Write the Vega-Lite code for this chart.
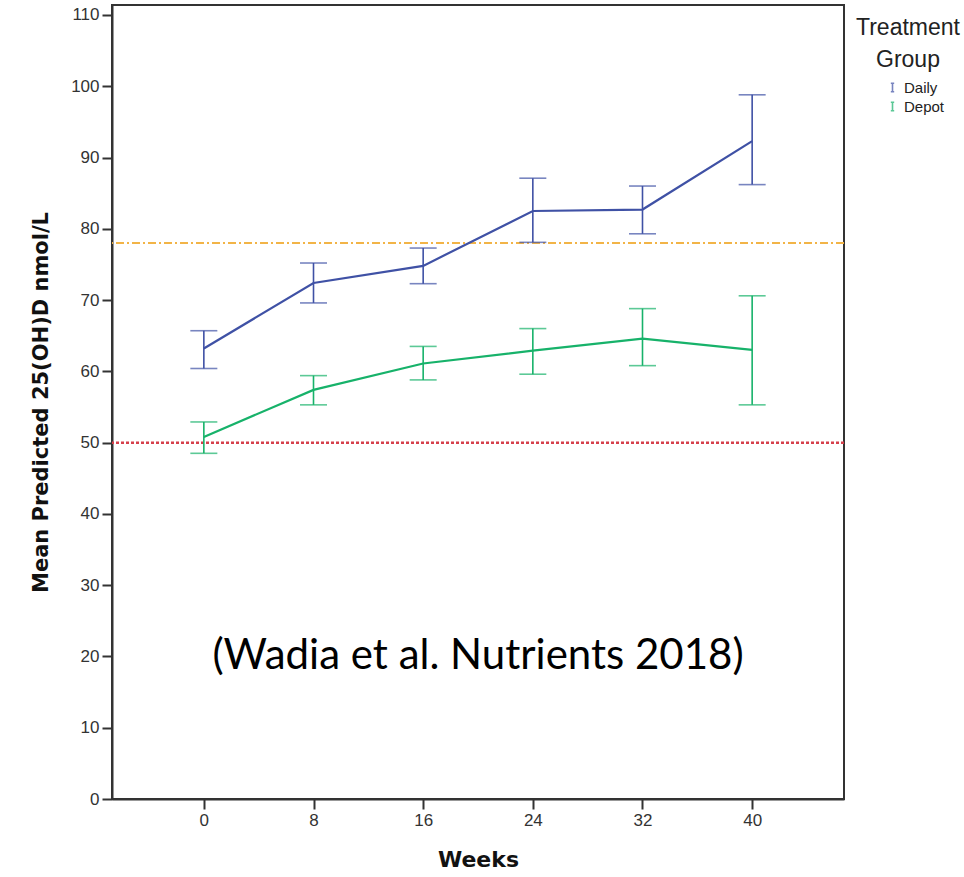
{
  "$schema": "https://vega.github.io/schema/vega-lite/v6.json",
  "width": 732,
  "height": 794,
  "autosize": "none",
  "padding": {"left": 112, "top": 5, "right": 120, "bottom": 78},
  "background": "white",
  "config": {
    "view": {"stroke": "#333333", "strokeWidth": 2},
    "font": "Liberation Sans",
    "axis": {"grid": false, "domainColor": "#333333", "domainWidth": 2, "tickColor": "#333333", "tickWidth": 2, "labelColor": "#333333", "titleColor": "#111111", "titleFont": "DejaVu Sans"}
  },
  "datasets": {
    "means": [
      {"week": 0, "group": "Daily", "mean": 63.2, "lower": 60.4, "upper": 65.7},
      {"week": 8, "group": "Daily", "mean": 72.4, "lower": 69.6, "upper": 75.2},
      {"week": 16, "group": "Daily", "mean": 74.8, "lower": 72.3, "upper": 77.3},
      {"week": 24, "group": "Daily", "mean": 82.5, "lower": 78.1, "upper": 87.1},
      {"week": 32, "group": "Daily", "mean": 82.7, "lower": 79.3, "upper": 86.0},
      {"week": 40, "group": "Daily", "mean": 92.3, "lower": 86.2, "upper": 98.8},
      {"week": 0, "group": "Depot", "mean": 50.8, "lower": 48.5, "upper": 52.9},
      {"week": 8, "group": "Depot", "mean": 57.4, "lower": 55.3, "upper": 59.4},
      {"week": 16, "group": "Depot", "mean": 61.1, "lower": 58.8, "upper": 63.5},
      {"week": 24, "group": "Depot", "mean": 62.9, "lower": 59.6, "upper": 66.0},
      {"week": 32, "group": "Depot", "mean": 64.6, "lower": 60.8, "upper": 68.8},
      {"week": 40, "group": "Depot", "mean": 63.0, "lower": 55.3, "upper": 70.6}
    ],
    "refs": [
      {"level": 78, "kind": "upper"},
      {"level": 50, "kind": "lower"}
    ],
    "note": [{"label": "(Wadia et al. Nutrients 2018)", "wx": 20, "wy": 20}]
  },
  "layer": [
    {
      "data": {"name": "refs"},
      "transform": [{"filter": "datum.kind === 'upper'"}],
      "mark": {"type": "rule", "color": "#f2b447", "strokeWidth": 2, "strokeDash": [8, 3, 2, 3]},
      "encoding": {"y": {"field": "level", "type": "quantitative", "scale": {"domain": [0, 111.4], "nice": false}}}
    },
    {
      "data": {"name": "refs"},
      "transform": [{"filter": "datum.kind === 'lower'"}],
      "mark": {"type": "rule", "color": "#d6404c", "strokeWidth": 2.5, "strokeDash": [3, 2]},
      "encoding": {"y": {"field": "level", "type": "quantitative"}}
    },
    {
      "data": {"name": "means"},
      "mark": {"type": "line", "strokeWidth": 2.2},
      "encoding": {
        "x": {"field": "week", "type": "quantitative", "scale": {"domain": [-6.7, 46.7], "nice": false, "zero": false},
              "axis": {"values": [0, 8, 16, 24, 32, 40], "title": "Weeks", "tickSize": 10, "labelPadding": 3, "labelFontSize": 17, "titleFontSize": 22, "titleFontWeight": "bold", "titlePadding": 21}},
        "y": {"field": "mean", "type": "quantitative",
              "axis": {"values": [0, 10, 20, 30, 40, 50, 60, 70, 80, 90, 100, 110], "title": "Mean Predicted 25(OH)D nmol/L", "tickSize": 10, "labelPadding": 3, "labelFontSize": 17, "titleFontSize": 21, "titleFontWeight": "bold", "titlePadding": 19}},
        "color": {"field": "group", "type": "nominal",
                  "scale": {"domain": ["Daily", "Depot"], "range": ["#3f51a5", "#17b26a"]},
                  "legend": {"title": ["Treatment", "Group"], "orient": "none", "legendX": 744, "legendY": 12,
                             "titleFontSize": 23, "titleFontWeight": "normal", "titleColor": "#222222", "titleLineHeight": 32,
                             "titleAlign": "center", "titleAnchor": "middle", "titlePadding": 8,
                             "labelFontSize": 15, "labelColor": "#222222", "rowPadding": 3,
                             "symbolType": "M-0.4,-1H0.4M0,-1V1M-0.4,1H0.4", "symbolSize": 70, "symbolStrokeWidth": 1.6,
                             "symbolFillColor": "transparent", "symbolOffset": 14}}
      }
    },
    {
      "data": {"name": "means"},
      "mark": {"type": "rule", "strokeWidth": 1.6},
      "encoding": {
        "x": {"field": "week", "type": "quantitative"},
        "y": {"field": "lower", "type": "quantitative"},
        "y2": {"field": "upper"},
        "color": {"field": "group", "type": "nominal"}
      }
    },
    {
      "data": {"name": "means"},
      "mark": {"type": "tick", "orient": "horizontal", "size": 27, "thickness": 1.6},
      "encoding": {
        "x": {"field": "week", "type": "quantitative"},
        "y": {"field": "upper", "type": "quantitative"},
        "color": {"field": "group", "type": "nominal"}
      }
    },
    {
      "data": {"name": "means"},
      "mark": {"type": "tick", "orient": "horizontal", "size": 27, "thickness": 1.6},
      "encoding": {
        "x": {"field": "week", "type": "quantitative"},
        "y": {"field": "lower", "type": "quantitative"},
        "color": {"field": "group", "type": "nominal"}
      }
    },
    {
      "data": {"name": "note"},
      "mark": {"type": "text", "font": "Lato", "fontSize": 42, "color": "#000000", "align": "center", "baseline": "middle"},
      "encoding": {
        "x": {"field": "wx", "type": "quantitative"},
        "y": {"field": "wy", "type": "quantitative"},
        "text": {"field": "label"}
      }
    }
  ]
}
